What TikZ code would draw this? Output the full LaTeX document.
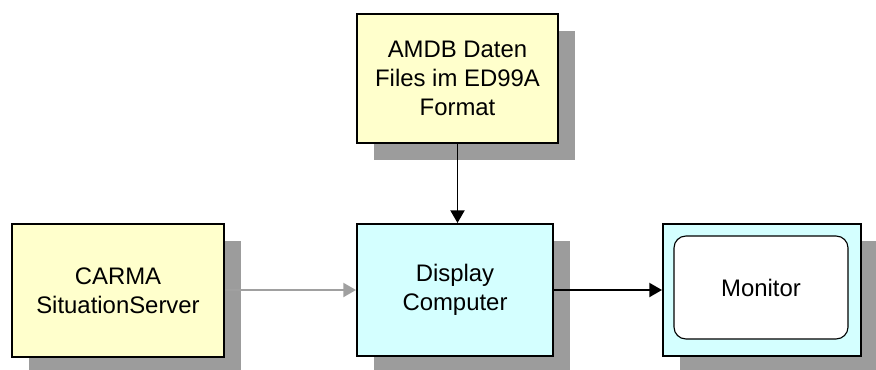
\documentclass[tikz,border=0pt]{standalone}
\usepackage{fontspec}
\setmainfont{Liberation Sans}
\usetikzlibrary{shadows}
\usetikzlibrary{arrows.meta}
\definecolor{boxyellow}{HTML}{FFFFCC}
\definecolor{boxcyan}{HTML}{D4FFFF}
\definecolor{shadowgray}{HTML}{9C9C9C}
\definecolor{linkgray}{HTML}{A0A0A0}
\tikzset{block/.style={draw, line width=1.4pt, align=center, inner sep=0pt,
  font=\fontsize{17}{20.5}\selectfont,
  drop shadow={shadow xshift=0.425cm, shadow yshift=-0.425cm, fill=shadowgray, opacity=1}}}
\tikzset{link/.style={line width=1.3pt, -{Triangle[length=9pt,width=10pt]}}}

\begin{document}
\begin{tikzpicture}[x=0.025cm, y=-0.025cm]
      \useasboundingbox (0, 0) rectangle (876, 369);

      \node [block, fill=boxyellow, minimum width=5.025cm, minimum height=3.225cm] (amdb) at (457.5, 78.5) {AMDB Daten\\Files im ED99A\\Format};
      \node [block, fill=boxyellow, minimum width=5.3cm, minimum height=3.325cm] (carma) at (118, 290.5) {CARMA\\SituationServer};
      \node [block, fill=boxcyan, minimum width=4.9cm, minimum height=3.3cm] (display) at (455, 290) {Display\\Computer};
      \node [block, fill=boxcyan, minimum width=4.95cm, minimum height=3.3cm] (monitor) at (762, 290) {};
      \node [draw, fill=white, line width=0.8pt, rounded corners=0.3cm, minimum width=4.35cm, minimum height=2.575cm,
        font=\fontsize{17}{20.5}\selectfont] (screen) at (761, 287.5) {Monitor};

      \draw [link] (amdb.south) -- (amdb.south |- display.north);
      \draw [link, linkgray] (carma.east |- display.west) -- (display.west);
      \draw [link] (display.east) -- (monitor.west);
\end{tikzpicture}
\end{document}
